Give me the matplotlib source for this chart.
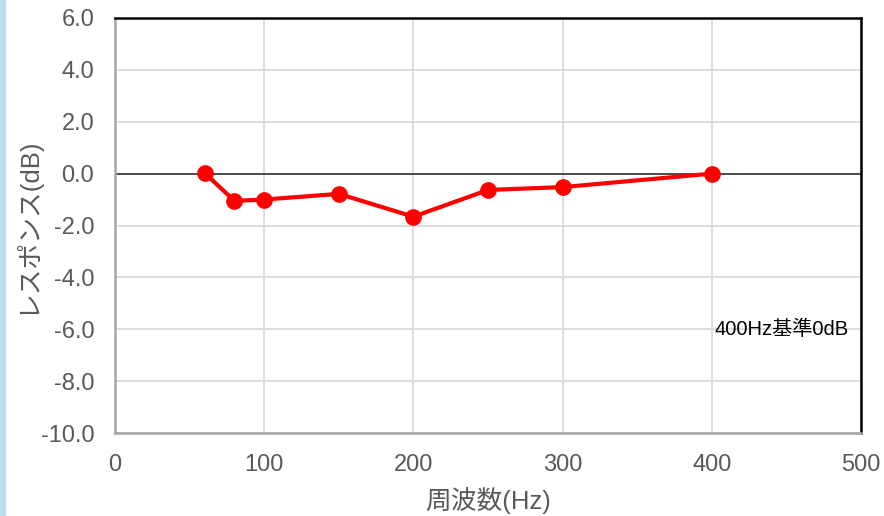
import matplotlib.pyplot as plt
import matplotlib.patches as mpatches

plt.rcParams['font.family'] = ['Liberation Sans', 'Noto Sans CJK JP', 'DejaVu Sans']

# frequency response, normalised to 400 Hz
freq_hz = [60, 80, 100, 150, 200, 250, 300, 400]
response_db = [0.03, -1.05, -1.0, -0.78, -1.66, -0.63, -0.52, 0.0]

x_ticks = [0, 100, 200, 300, 400, 500]
y_ticks = [-10, -8, -6, -4, -2, 0, 2, 4, 6]

fig = plt.figure(figsize=(8.84, 5.16), dpi=100)
ax = fig.add_axes([115 / 884, 1 - 433 / 516, 746 / 884, 415 / 516])

# light blue strip on the left edge
fig.patches.append(mpatches.Rectangle((0, 0), 5 / 884, 1, transform=fig.transFigure,
                                      color='#b7dfe5', zorder=0))

ax.set_xlim(0, 500)
ax.set_ylim(-10, 6)
ax.set_xticks(x_ticks)
ax.set_yticks(y_ticks)
ax.set_yticklabels([f'{v:.1f}' for v in y_ticks])
ax.grid(True, color='#d9d9d9', linewidth=1.3)
ax.set_axisbelow(True)
ax.tick_params(length=0, labelsize=17, labelcolor='#595959')
ax.tick_params(axis='x', pad=15)
ax.tick_params(axis='y', pad=15)

ax.axhline(0, color='#404040', linewidth=1.3, zorder=2)

ax.plot(freq_hz, response_db, color='#ff0000', linewidth=3,
        marker='o', markersize=11, zorder=3)

ax.text(402, -6, '400Hz基準0dB', fontsize=14.5, color='black', va='center', ha='left')

ax.set_xlabel('周波数(Hz)', fontsize=18.5, color='#595959', labelpad=8)
ax.set_ylabel('レスポンス(dB)', fontsize=18.5, color='#595959', labelpad=1)

for side in ('top', 'right'):
    ax.spines[side].set_color('black')
    ax.spines[side].set_linewidth(1.8)
for side in ('left', 'bottom'):
    ax.spines[side].set_color('#a6a6a6')
    ax.spines[side].set_linewidth(1.8)

fig.savefig('out.png', dpi=100)
